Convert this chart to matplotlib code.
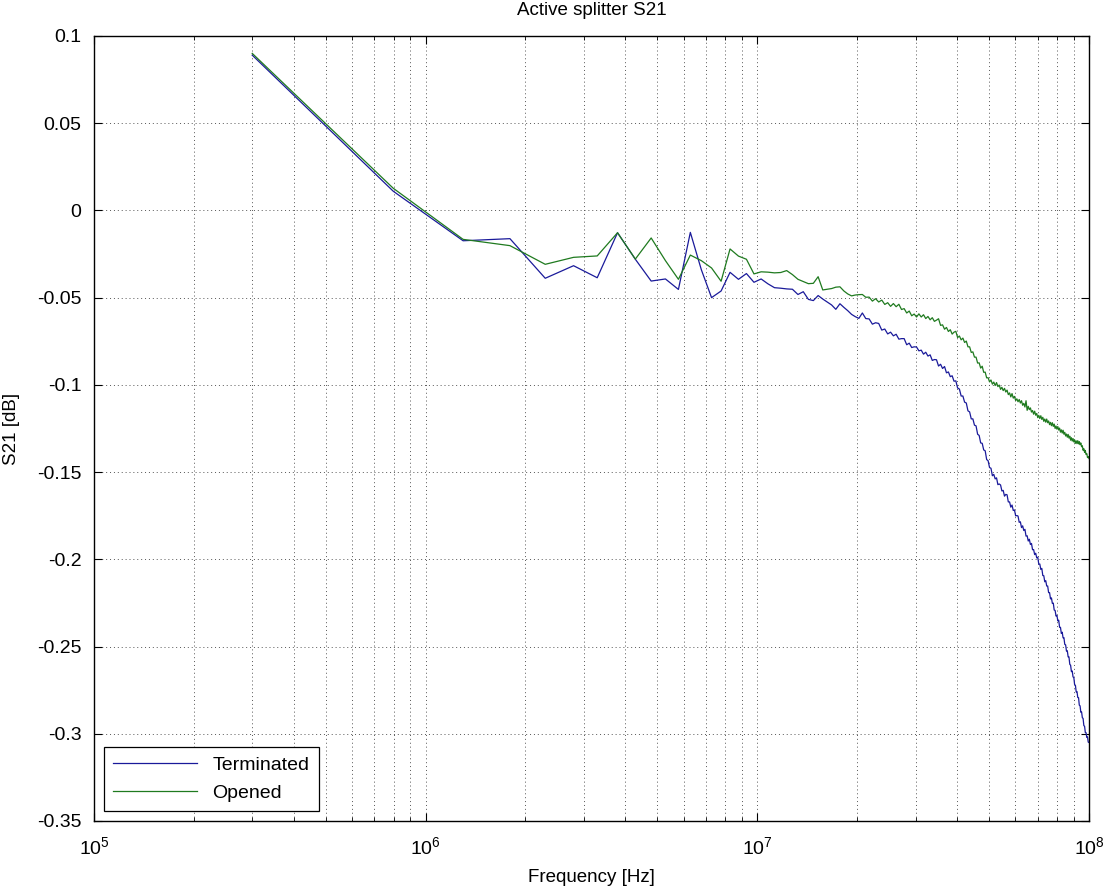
import matplotlib
matplotlib.use('Agg')
import matplotlib.pyplot as plt
import numpy as np
from matplotlib.ticker import FixedLocator, FuncFormatter, LogLocator, NullFormatter

plt.rcParams['font.family'] = ['Liberation Sans', 'DejaVu Sans']
plt.rcParams['axes.unicode_minus'] = False
plt.rcParams['mathtext.default'] = 'regular'

# sweep settings of the analyser (201 points, 300 kHz .. 100 MHz)
f_start = 3e5
f_stop = 1e8
n_points = 201
freq = np.linspace(f_start, f_stop, n_points)

terminated = [
    0.0890, 0.0110, -0.0174, -0.0162, -0.0389, -0.0317, -0.0386, -0.0128, -0.0280, -0.0405,
    -0.0393, -0.0453, -0.0126, -0.0340, -0.0500, -0.0462, -0.0355, -0.0395, -0.0362, -0.0412,
    -0.0393, -0.0421, -0.0443, -0.0446, -0.0450, -0.0452, -0.0482, -0.0466, -0.0510, -0.0517,
    -0.0488, -0.0508, -0.0525, -0.0542, -0.0567, -0.0535, -0.0556, -0.0575, -0.0596, -0.0609,
    -0.0619, -0.0588, -0.0620, -0.0622, -0.0652, -0.0644, -0.0648, -0.0686, -0.0680, -0.0708,
    -0.0698, -0.0719, -0.0710, -0.0738, -0.0735, -0.0735, -0.0770, -0.0761, -0.0786, -0.0782,
    -0.0783, -0.0805, -0.0801, -0.0824, -0.0813, -0.0835, -0.0828, -0.0860, -0.0855, -0.0856,
    -0.0892, -0.0882, -0.0906, -0.0895, -0.0931, -0.0926, -0.0953, -0.0948, -0.0979, -0.0977,
    -0.1018, -0.1024, -0.1064, -0.1064, -0.1099, -0.1104, -0.1149, -0.1155, -0.1195, -0.1195,
    -0.1231, -0.1235, -0.1283, -0.1290, -0.1333, -0.1335, -0.1373, -0.1378, -0.1428, -0.1435,
    -0.1474, -0.1478, -0.1521, -0.1513, -0.1539, -0.1533, -0.1572, -0.1568, -0.1574, -0.1608,
    -0.1605, -0.1638, -0.1628, -0.1630, -0.1671, -0.1671, -0.1701, -0.1689, -0.1720, -0.1717,
    -0.1751, -0.1749, -0.1752, -0.1788, -0.1785, -0.1818, -0.1808, -0.1835, -0.1828, -0.1867,
    -0.1865, -0.1895, -0.1885, -0.1915, -0.1909, -0.1945, -0.1944, -0.1973, -0.1965, -0.1992,
    -0.1988, -0.2028, -0.2027, -0.2058, -0.2052, -0.2093, -0.2094, -0.2129, -0.2122, -0.2153,
    -0.2153, -0.2191, -0.2191, -0.2227, -0.2221, -0.2253, -0.2251, -0.2291, -0.2293, -0.2325,
    -0.2321, -0.2353, -0.2349, -0.2390, -0.2390, -0.2425, -0.2418, -0.2450, -0.2449, -0.2488,
    -0.2490, -0.2526, -0.2524, -0.2559, -0.2559, -0.2602, -0.2607, -0.2644, -0.2640, -0.2674,
    -0.2678, -0.2719, -0.2722, -0.2760, -0.2758, -0.2792, -0.2793, -0.2836, -0.2840, -0.2877,
    -0.2875, -0.2908, -0.2912, -0.2953, -0.2957, -0.2993, -0.2994, -0.3021, -0.3018, -0.3048,
    -0.3050,
]

opened = [
    0.0900, 0.0127, -0.0166, -0.0202, -0.0309, -0.0269, -0.0261, -0.0128, -0.0279, -0.0158,
    -0.0288, -0.0395, -0.0256, -0.0288, -0.0330, -0.0406, -0.0221, -0.0262, -0.0280, -0.0364,
    -0.0352, -0.0354, -0.0358, -0.0356, -0.0345, -0.0368, -0.0395, -0.0408, -0.0420, -0.0418,
    -0.0380, -0.0456, -0.0452, -0.0448, -0.0440, -0.0438, -0.0462, -0.0479, -0.0490, -0.0485,
    -0.0483, -0.0482, -0.0498, -0.0497, -0.0520, -0.0506, -0.0525, -0.0514, -0.0539, -0.0529,
    -0.0550, -0.0534, -0.0552, -0.0538, -0.0568, -0.0563, -0.0588, -0.0577, -0.0604, -0.0594,
    -0.0611, -0.0593, -0.0611, -0.0598, -0.0620, -0.0608, -0.0627, -0.0615, -0.0636, -0.0629,
    -0.0621, -0.0659, -0.0656, -0.0681, -0.0671, -0.0694, -0.0684, -0.0709, -0.0698, -0.0693,
    -0.0729, -0.0720, -0.0742, -0.0732, -0.0757, -0.0749, -0.0782, -0.0782, -0.0814, -0.0811,
    -0.0841, -0.0841, -0.0875, -0.0874, -0.0904, -0.0893, -0.0928, -0.0927, -0.0960, -0.0959,
    -0.0983, -0.0972, -0.0996, -0.0984, -0.1004, -0.0987, -0.1010, -0.1001, -0.1026, -0.1014,
    -0.1033, -0.1020, -0.1041, -0.1030, -0.1056, -0.1046, -0.1069, -0.1050, -0.1076, -0.1066,
    -0.1090, -0.1080, -0.1097, -0.1084, -0.1104, -0.1091, -0.1117, -0.1106, -0.1127, -0.1091,
    -0.1146, -0.1123, -0.1142, -0.1132, -0.1156, -0.1147, -0.1168, -0.1151, -0.1174, -0.1164,
    -0.1188, -0.1175, -0.1193, -0.1177, -0.1198, -0.1186, -0.1209, -0.1196, -0.1214, -0.1196,
    -0.1217, -0.1207, -0.1228, -0.1215, -0.1234, -0.1217, -0.1238, -0.1225, -0.1250, -0.1236,
    -0.1254, -0.1239, -0.1259, -0.1248, -0.1271, -0.1258, -0.1276, -0.1260, -0.1283, -0.1272,
    -0.1293, -0.1282, -0.1300, -0.1284, -0.1305, -0.1294, -0.1317, -0.1303, -0.1322, -0.1308,
    -0.1327, -0.1315, -0.1335, -0.1321, -0.1337, -0.1320, -0.1338, -0.1325, -0.1343, -0.1333,
    -0.1355, -0.1349, -0.1375, -0.1366, -0.1387, -0.1376, -0.1399, -0.1394, -0.1417, -0.1411,
    -0.1422,
]

y_ticks = [-0.35, -0.3, -0.25, -0.2, -0.15, -0.1, -0.05, 0, 0.05, 0.1]

fig = plt.figure(figsize=(11.07, 8.92), dpi=100)
ax = fig.add_axes([0.0849, 0.0796, 0.8988, 0.8801])

ax.plot(freq, terminated, color='#1a1a9a', lw=0.9, label='Terminated')
ax.plot(freq, opened, color='#1f7a1f', lw=0.9, label='Opened')

ax.set_xscale('log')
ax.set_xlim(1e5, 1e8)
ax.set_ylim(-0.35, 0.1)

ax.yaxis.set_major_locator(FixedLocator(y_ticks))
ax.yaxis.set_major_formatter(FuncFormatter(lambda v, p: '%g' % round(v, 2)))
ax.xaxis.set_major_locator(LogLocator(base=10, numticks=10))
ax.xaxis.set_minor_locator(LogLocator(base=10, subs=np.arange(2, 10), numticks=30))
ax.xaxis.set_minor_formatter(NullFormatter())
ax.xaxis.set_major_formatter(FuncFormatter(lambda v, p: r'10$^{%d}$' % round(np.log10(v))))

ax.grid(True, which='major', axis='both', color='#555555', linestyle=(0, (1, 3)), lw=0.7)
ax.grid(True, which='minor', axis='x', color='#555555', linestyle=(0, (1, 3)), lw=0.7)

ax.tick_params(which='both', direction='in', top=True, right=True, labelsize=14)
ax.tick_params(which='major', length=6)
ax.tick_params(which='minor', length=3)
ax.tick_params(axis='x', pad=11)
ax.tick_params(axis='y', pad=9)
for s in ax.spines.values():
    s.set_linewidth(1.0)

ax.set_title('Active splitter S21', fontsize=13.5, pad=15)
ax.set_xlabel('Frequency [Hz]', fontsize=13.5, labelpad=8)
ax.set_ylabel('S21 [dB]', fontsize=13.5, labelpad=12)

leg = ax.legend(loc='lower left', fontsize=14, handlelength=4.3, fancybox=False,
                edgecolor='black', framealpha=1, borderaxespad=0.5, labelspacing=0.5,
                borderpad=0.5)
leg.get_frame().set_linewidth(0.9)

fig.savefig('out.png', dpi=100)
